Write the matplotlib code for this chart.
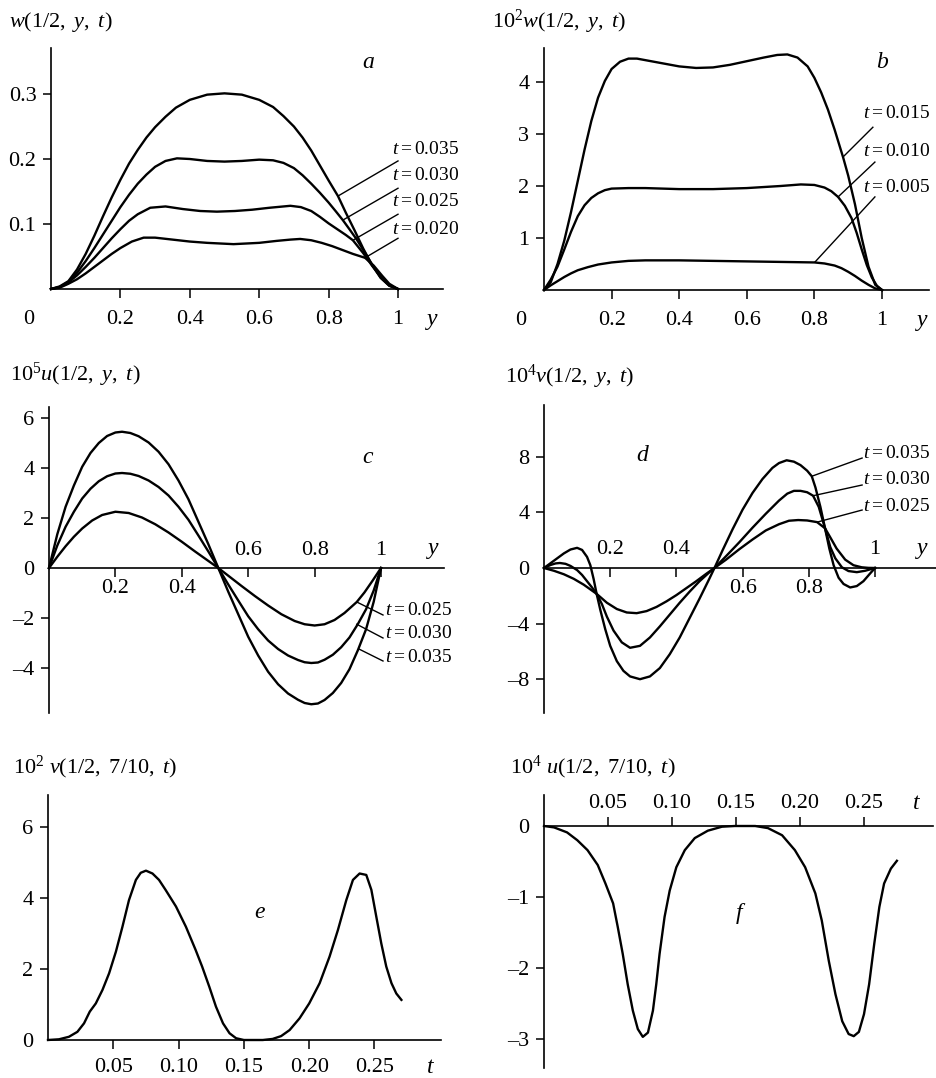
"""Six-panel profile figure: w, u, v along y and v, u against t."""

import matplotlib

matplotlib.use("Agg")
import matplotlib.pyplot as plt

# ---- panel a: w(1/2, y, t) ----
A_Y_035 = [0, 0.025, 0.05, 0.075, 0.1, 0.125, 0.15, 0.175, 0.2, 0.225, 0.25, 0.275, 0.3, 0.33, 0.36, 0.4, 0.45, 0.5,
           0.55, 0.6, 0.64, 0.67, 0.7, 0.725, 0.75, 0.775, 0.8, 0.827, 0.85, 0.875, 0.9, 0.925, 0.95, 0.975, 1.0]
A_W_035 = [0, 0.004, 0.012, 0.03, 0.054, 0.082, 0.112, 0.141, 0.168, 0.193, 0.214, 0.233, 0.249, 0.265, 0.279, 0.291, 0.299, 0.301,
           0.299, 0.291, 0.28, 0.266, 0.25, 0.233, 0.213, 0.19, 0.167, 0.143, 0.117, 0.09, 0.062, 0.037, 0.017, 0.005, 0]
A_Y_030 = [0, 0.025, 0.05, 0.075, 0.1, 0.125, 0.15, 0.175, 0.2, 0.225, 0.25, 0.275, 0.3, 0.33, 0.363, 0.4, 0.45, 0.5,
           0.55, 0.6, 0.64, 0.67, 0.7, 0.725, 0.75, 0.775, 0.8, 0.82, 0.841, 0.86, 0.88, 0.9, 0.925, 0.95, 0.975, 1.0]
A_W_030 = [0, 0.003, 0.011, 0.025, 0.043, 0.063, 0.084, 0.105, 0.126, 0.145, 0.162, 0.176, 0.188, 0.197, 0.201, 0.2, 0.197, 0.196,
           0.197, 0.199, 0.198, 0.194, 0.186, 0.175, 0.162, 0.148, 0.133, 0.12, 0.106, 0.092, 0.077, 0.06, 0.038, 0.018, 0.005, 0]
A_Y_025 = [0, 0.025, 0.05, 0.075, 0.1, 0.125, 0.15, 0.175, 0.2, 0.225, 0.25, 0.286, 0.33, 0.38, 0.43, 0.478, 0.53, 0.58,
           0.63, 0.69, 0.72, 0.75, 0.775, 0.8, 0.825, 0.85, 0.87, 0.9, 0.925, 0.95, 0.975, 1.0]
A_W_025 = [0, 0.003, 0.01, 0.021, 0.034, 0.048, 0.063, 0.078, 0.092, 0.105, 0.115, 0.125, 0.127, 0.123, 0.12, 0.119, 0.12, 0.122,
           0.125, 0.128, 0.126, 0.12, 0.111, 0.101, 0.092, 0.083, 0.075, 0.055, 0.036, 0.019, 0.006, 0]
A_Y_020 = [0, 0.025, 0.05, 0.075, 0.1, 0.125, 0.15, 0.175, 0.2, 0.233, 0.267, 0.3, 0.35, 0.4, 0.45, 0.526, 0.6, 0.65,
           0.69, 0.718, 0.75, 0.78, 0.81, 0.84, 0.87, 0.905, 0.93, 0.955, 0.975, 1.0]
A_W_020 = [0, 0.002, 0.008, 0.015, 0.024, 0.034, 0.044, 0.054, 0.063, 0.073, 0.079, 0.079, 0.076, 0.073, 0.071, 0.069, 0.071, 0.074,
           0.076, 0.077, 0.075, 0.071, 0.066, 0.06, 0.054, 0.048, 0.036, 0.02, 0.008, 0]

# ---- panel b: 10^2 w(1/2, y, t) ----
B_Y_015 = [0, 0.02, 0.04, 0.06, 0.08, 0.1, 0.12, 0.14, 0.16, 0.18, 0.2, 0.225, 0.25, 0.275, 0.3, 0.35, 0.4, 0.45, 0.5,
           0.55, 0.6, 0.65, 0.69, 0.72, 0.75, 0.78, 0.8, 0.82, 0.84, 0.86, 0.885, 0.9, 0.92, 0.94, 0.96, 0.98, 1.0]
B_W_015 = [0, 0.15, 0.5, 0.95, 1.5, 2.1, 2.7, 3.25, 3.7, 4.02, 4.25, 4.39, 4.45, 4.45, 4.42, 4.36, 4.3, 4.27, 4.28,
           4.33, 4.4, 4.47, 4.52, 4.53, 4.47, 4.3, 4.08, 3.8, 3.47, 3.08, 2.55, 2.2, 1.65, 1.0, 0.45, 0.1, 0]
B_Y_010 = [0, 0.02, 0.04, 0.06, 0.08, 0.1, 0.12, 0.14, 0.16, 0.18, 0.2, 0.25, 0.3, 0.4, 0.5, 0.6, 0.7, 0.76,
           0.8, 0.83, 0.85, 0.87, 0.89, 0.91, 0.925, 0.94, 0.955, 0.97, 0.985, 1.0]
B_W_010 = [0, 0.2, 0.45, 0.78, 1.12, 1.42, 1.63, 1.77, 1.86, 1.92, 1.95, 1.96, 1.96, 1.94, 1.94, 1.96, 2.0, 2.03,
           2.02, 1.97, 1.9, 1.79, 1.62, 1.38, 1.1, 0.78, 0.48, 0.24, 0.08, 0]
B_Y_005 = [0, 0.02, 0.04, 0.06, 0.08, 0.1, 0.13, 0.16, 0.2, 0.25, 0.3, 0.4, 0.5, 0.6, 0.7, 0.8, 0.83, 0.86,
           0.88, 0.9, 0.92, 0.94, 0.96, 0.98, 1.0]
B_W_005 = [0, 0.09, 0.17, 0.25, 0.32, 0.38, 0.44, 0.49, 0.53, 0.56, 0.57, 0.57, 0.56, 0.55, 0.54, 0.53, 0.51, 0.47,
           0.42, 0.35, 0.27, 0.18, 0.1, 0.03, 0]

# ---- panel c: 10^5 u(1/2, y, t) ----
C_Y_HI = [0, 0.025, 0.05, 0.075, 0.1, 0.125, 0.15, 0.175, 0.2, 0.22, 0.245, 0.27, 0.3, 0.33, 0.36, 0.39, 0.42, 0.45, 0.48, 0.51,
          0.54, 0.57, 0.6, 0.63, 0.66, 0.69, 0.72, 0.75, 0.77, 0.79, 0.81, 0.83, 0.855, 0.88, 0.905, 0.93, 0.955, 0.978, 1.0]
C_U_035 = [0, 1.35, 2.45, 3.3, 4.05, 4.6, 5.0, 5.28, 5.42, 5.45, 5.4, 5.27, 5.02, 4.65, 4.15, 3.5, 2.75, 1.85, 0.95, 0,
           -0.95, -1.85, -2.75, -3.5, -4.15, -4.65, -5.02, -5.27, -5.4, -5.45, -5.42, -5.28, -5.0, -4.6, -4.05, -3.3, -2.45, -1.35, 0]
C_U_030 = [0, 0.9, 1.65, 2.25, 2.78, 3.17, 3.47, 3.67, 3.78, 3.8, 3.77, 3.68, 3.5, 3.24, 2.9, 2.45, 1.93, 1.3, 0.66, 0,
           -0.66, -1.3, -1.93, -2.45, -2.9, -3.24, -3.5, -3.68, -3.77, -3.8, -3.78, -3.67, -3.47, -3.17, -2.78, -2.25, -1.65, -0.9, 0]
C_Y_025 = [0, 0.025, 0.05, 0.075, 0.1, 0.13, 0.16, 0.2, 0.24, 0.28, 0.32, 0.36, 0.4, 0.44, 0.475, 0.51,
           0.545, 0.58, 0.62, 0.66, 0.7, 0.74, 0.77, 0.8, 0.83, 0.86, 0.89, 0.927, 0.95, 0.975, 1.0]
C_U_025 = [0, 0.45, 0.87, 1.25, 1.58, 1.9, 2.12, 2.25, 2.2, 2.02, 1.75, 1.42, 1.05, 0.66, 0.33, 0,
           -0.36, -0.72, -1.12, -1.5, -1.85, -2.12, -2.25, -2.3, -2.25, -2.08, -1.8, -1.36, -0.98, -0.5, 0]

# ---- panel d: 10^4 v(1/2, y, t) ----
D_Y_035 = [0, 0.02, 0.04, 0.06, 0.08, 0.1, 0.115, 0.13, 0.14, 0.15, 0.159, 0.17, 0.185, 0.2, 0.22, 0.24, 0.26, 0.29, 0.32,
           0.35, 0.38, 0.41, 0.44, 0.47, 0.5, 0.515, 0.54, 0.57, 0.6, 0.63, 0.66, 0.69, 0.71, 0.733, 0.755, 0.775, 0.795,
           0.809, 0.82, 0.835, 0.849, 0.862, 0.875, 0.89, 0.905, 0.925, 0.945, 0.965, 0.985, 1.0]
D_V_035 = [0, 0.35, 0.7, 1.05, 1.33, 1.45, 1.3, 0.8, 0.2, -0.8, -1.86, -3.0, -4.4, -5.6, -6.7, -7.4, -7.8, -8.0, -7.8,
           -7.2, -6.2, -5.0, -3.6, -2.2, -0.75, 0, 1.3, 2.8, 4.2, 5.4, 6.4, 7.2, 7.55, 7.75, 7.65, 7.4, 7.0,
           6.6, 5.8, 4.4, 2.86, 1.4, 0.2, -0.7, -1.15, -1.4, -1.3, -0.95, -0.4, 0]
D_Y_030 = [0, 0.02, 0.035, 0.048, 0.065, 0.08, 0.1, 0.115, 0.13, 0.145, 0.159, 0.175, 0.19, 0.21, 0.235, 0.26, 0.29, 0.32,
           0.35, 0.38, 0.41, 0.44, 0.47, 0.5, 0.515, 0.55, 0.59, 0.63, 0.67, 0.71, 0.735, 0.755, 0.775, 0.795, 0.813,
           0.83, 0.849, 0.865, 0.88, 0.9, 0.92, 0.945, 0.97, 1.0]
D_V_030 = [0, 0.22, 0.33, 0.36, 0.3, 0.15, -0.15, -0.5, -0.95, -1.4, -1.86, -2.6, -3.5, -4.5, -5.35, -5.74, -5.6, -5.0,
           -4.2, -3.35, -2.5, -1.7, -0.95, -0.3, 0, 0.85, 1.85, 2.9, 3.9, 4.85, 5.35, 5.55, 5.55, 5.45, 5.2,
           4.4, 2.86, 1.5, 0.7, 0.05, -0.22, -0.3, -0.2, 0]
D_Y_025 = [0, 0.03, 0.06, 0.09, 0.12, 0.159, 0.19, 0.22, 0.25, 0.28, 0.31, 0.34, 0.37, 0.4, 0.43, 0.46, 0.49, 0.515,
           0.55, 0.59, 0.63, 0.67, 0.71, 0.74, 0.768, 0.795, 0.825, 0.849, 0.865, 0.884, 0.91, 0.935, 0.96, 0.98, 1.0]
D_V_025 = [0, -0.2, -0.45, -0.78, -1.2, -1.86, -2.5, -2.95, -3.2, -3.25, -3.1, -2.8, -2.4, -1.95, -1.45, -0.95, -0.42, 0,
           0.6, 1.35, 2.05, 2.7, 3.15, 3.4, 3.45, 3.42, 3.3, 2.86, 2.2, 1.4, 0.6, 0.2, 0.05, 0.01, 0]

# ---- panel e: 10^2 v(1/2, 7/10, t) ----
E_T = [0, 0.0084, 0.016, 0.0225, 0.0276, 0.032, 0.0366, 0.0417, 0.0468, 0.052, 0.057, 0.062, 0.0673, 0.071, 0.075,
       0.08, 0.085, 0.09, 0.098, 0.1056, 0.113, 0.118, 0.1235, 0.1286, 0.134, 0.139, 0.144, 0.15, 0.1645, 0.172,
       0.1785, 0.185, 0.1926, 0.2, 0.208, 0.2156, 0.222, 0.2284, 0.2335, 0.2386, 0.2437, 0.2476, 0.2514, 0.2552,
       0.259, 0.263, 0.2667, 0.2706]
E_V = [0, 0.02, 0.09, 0.23, 0.47, 0.8, 1.03, 1.41, 1.88, 2.49, 3.19, 3.94, 4.51, 4.71, 4.77,
       4.69, 4.51, 4.23, 3.76, 3.19, 2.54, 2.07, 1.5, 0.94, 0.47, 0.19, 0.05, 0, 0, 0.03,
       0.11, 0.28, 0.61, 1.03, 1.6, 2.35, 3.1, 3.94, 4.51, 4.69, 4.65, 4.23, 3.47, 2.72,
       2.07, 1.6, 1.31, 1.13]

# ---- panel f: 10^4 u(1/2, 7/10, t) ----
F_T = [0, 0.0079, 0.018, 0.026, 0.034, 0.042, 0.048, 0.054, 0.0576, 0.0615, 0.0654, 0.0694, 0.0733, 0.0772, 0.0812,
       0.0851, 0.0877, 0.0903, 0.0942, 0.0982, 0.1034, 0.11, 0.1178, 0.128, 0.139, 0.149, 0.165, 0.175, 0.186,
       0.196, 0.204, 0.212, 0.217, 0.2225, 0.2277, 0.233, 0.238, 0.242, 0.246, 0.25, 0.254, 0.258, 0.262, 0.2657,
       0.271, 0.2757]
F_U = [0, -0.02, -0.09, -0.2, -0.34, -0.55, -0.81, -1.09, -1.42, -1.8, -2.23, -2.6, -2.86, -2.97, -2.91,
       -2.6, -2.23, -1.8, -1.28, -0.91, -0.58, -0.34, -0.17, -0.066, -0.01, 0, 0, -0.03, -0.13,
       -0.34, -0.58, -0.95, -1.33, -1.9, -2.37, -2.75, -2.93, -2.96, -2.9, -2.65, -2.23, -1.66, -1.14, -0.81,
       -0.6, -0.49]

# tick labels
Y_TICKS_A = [0.1, 0.2, 0.3]
Y_TICKS_B = [1, 2, 3, 4]
Y_TICKS_C = [6, 4, 2, 0, -2, -4]
Y_TICKS_D = [8, 4, 0, -4, -8]
Y_TICKS_E = [0, 2, 4, 6]
Y_TICKS_F = [0, -1, -2, -3]
X_TICKS_Y = [0.2, 0.4, 0.6, 0.8, 1]
X_LABELS_Y = ["0.2", "0.4", "0.6", "0.8", "1"]
X_TICKS_T = [0.05, 0.10, 0.15, 0.20, 0.25]
X_LABELS_T = ["0.05", "0.10", "0.15", "0.20", "0.25"]

W, H = 937, 1078
CURVE_LW = 1.7
FS = 16

plt.rcParams["font.family"] = ["Liberation Serif", "DejaVu Serif"]
plt.rcParams["mathtext.fontset"] = "custom"
plt.rcParams["mathtext.rm"] = "Liberation Serif"
plt.rcParams["mathtext.it"] = "Liberation Serif:italic"
plt.rcParams["font.size"] = FS
plt.rcParams["lines.solid_joinstyle"] = "round"


def num(v: float) -> str:
    return f"{v:g}".replace("-", "\u2013")


def make_axes(fig, origin, scale, xlim, ylim):
    """Place axes so that data maps onto the reference pixel grid."""
    x0, y0 = origin
    sx, sy = scale
    left = x0 + xlim[0] * sx
    right = x0 + xlim[1] * sx
    top = y0 - ylim[1] * sy
    bottom = y0 - ylim[0] * sy
    ax = fig.add_axes([left / W, 1 - bottom / H, (right - left) / W, (bottom - top) / H])
    ax.set_xlim(xlim)
    ax.set_ylim(ylim)
    ax.patch.set_visible(False)
    for side in ("top", "right"):
        ax.spines[side].set_visible(False)
    ax.spines["left"].set_position(("data", 0))
    ax.spines["bottom"].set_position(("data", 0))
    for side in ("left", "bottom"):
        ax.spines[side].set_linewidth(1.2)
    ax.tick_params(axis="y", direction="out", length=5.5, width=1.1, pad=5, labelsize=FS)
    ax.tick_params(axis="x", direction="out", length=6.5, width=1.1, labelbottom=False)
    return ax


def set_yticks(ax, ticks):
    ax.set_yticks(ticks)
    ax.set_yticklabels([num(v) for v in ticks])
    for tick, v in zip(ax.yaxis.get_major_ticks(), ticks):
        if v == 0:
            tick.tick1line.set_visible(False)


def x_labels(ax, ticks, labels, offsets):
    ax.set_xticks(ticks)
    for x, lab, off in zip(ticks, labels, offsets):
        ax.annotate(lab, xy=(x, 0), xytext=(0, off), textcoords="offset points",
                    ha="center", va="center", fontsize=FS, annotation_clip=False)


def var_label(ax, x, text, off):
    ax.annotate(text, xy=(x, 0), xytext=(0, off), textcoords="offset points",
                ha="center", va="center", fontsize=FS + 1, style="italic",
                annotation_clip=False)


def curve_label(ax, text_xy, start, end, label):
    ax.plot([start[0], end[0]], [start[1], end[1]], color="black", lw=1.0, clip_on=False)
    ax.text(text_xy[0], text_xy[1], label, ha="left", va="center", fontsize=14, clip_on=False)


def draw(ax, xs, ys):
    ax.plot(xs, ys, color="black", lw=CURVE_LW, clip_on=False)


def main() -> None:
    fig = plt.figure(figsize=(W / 100, H / 100), dpi=100)

    # a
    ax = make_axes(fig, (51, 289), (347, 650), (0, 1.13), (0, 0.371))
    draw(ax, A_Y_035, A_W_035)
    draw(ax, A_Y_030, A_W_030)
    draw(ax, A_Y_025, A_W_025)
    draw(ax, A_Y_020, A_W_020)
    set_yticks(ax, Y_TICKS_A)
    x_labels(ax, X_TICKS_Y, X_LABELS_Y, [-22] * 5)
    ax.annotate("0", xy=(0, 0), xytext=(-16, -22), textcoords="offset points",
                ha="center", va="center", fontsize=FS)
    var_label(ax, 1.10, "y", -22)
    ax.text(0.914, 0.348, "a", style="italic", fontsize=FS + 1, ha="center", va="center")
    curve_label(ax, (0.983, 0.214), (1.0, 0.197), (0.827, 0.143), r"$t=0.035$")
    curve_label(ax, (0.983, 0.174), (1.0, 0.155), (0.841, 0.106), r"$t=0.030$")
    curve_label(ax, (0.983, 0.134), (1.0, 0.115), (0.870, 0.075), r"$t=0.025$")
    curve_label(ax, (0.983, 0.092), (1.0, 0.078), (0.905, 0.048), r"$t=0.020$")
    fig.text(9 / W, 1 - 22 / H, r"$w(1/2,\ y,\ t)$", ha="left", va="center", fontsize=FS)

    # b
    ax = make_axes(fig, (544, 290), (338, 52), (0, 1.14), (0, 4.65))
    draw(ax, B_Y_015, B_W_015)
    draw(ax, B_Y_010, B_W_010)
    draw(ax, B_Y_005, B_W_005)
    set_yticks(ax, Y_TICKS_B)
    x_labels(ax, X_TICKS_Y, X_LABELS_Y, [-22] * 5)
    ax.annotate("0", xy=(0, 0), xytext=(-17, -22), textcoords="offset points",
                ha="center", va="center", fontsize=FS)
    var_label(ax, 1.118, "y", -22)
    ax.text(1.0, 4.38, "b", style="italic", fontsize=FS + 1, ha="center", va="center")
    curve_label(ax, (0.944, 3.40), (0.973, 3.13), (0.885, 2.56), r"$t=0.015$")
    curve_label(ax, (0.944, 2.67), (0.979, 2.46), (0.870, 1.79), r"$t=0.010$")
    curve_label(ax, (0.944, 1.98), (0.979, 1.79), (0.802, 0.54), r"$t=0.005$")
    fig.text(492 / W, 1 - 22 / H, r"$10^2w(1/2,\ y,\ t)$", ha="left", va="center", fontsize=FS)

    # c
    ax = make_axes(fig, (49, 568), (332, 25), (0, 1.19), (-5.8, 6.44))
    draw(ax, C_Y_HI, C_U_035)
    draw(ax, C_Y_HI, C_U_030)
    draw(ax, C_Y_025, C_U_025)
    set_yticks(ax, Y_TICKS_C)
    x_labels(ax, X_TICKS_Y, X_LABELS_Y, [-15, -15, 12.5, 12.5, 12.5])
    var_label(ax, 1.157, "y", 14)
    ax.text(0.96, 4.44, "c", style="italic", fontsize=FS + 1, ha="center", va="center")
    curve_label(ax, (1.012, -1.68), (1.006, -1.88), (0.927, -1.36), r"$t=0.025$")
    curve_label(ax, (1.012, -2.60), (1.006, -2.80), (0.927, -2.25), r"$t=0.030$")
    curve_label(ax, (1.012, -3.56), (1.006, -3.72), (0.935, -3.25), r"$t=0.035$")
    fig.text(10 / W, 1 - 375 / H, r"$10^5u(1/2,\ y,\ t)$", ha="left", va="center", fontsize=FS)

    # d
    ax = make_axes(fig, (544, 568), (331, 13.9), (0, 1.19), (-10.4, 11.7))
    draw(ax, D_Y_035, D_V_035)
    draw(ax, D_Y_030, D_V_030)
    draw(ax, D_Y_025, D_V_025)
    set_yticks(ax, Y_TICKS_D)
    x_labels(ax, X_TICKS_Y, X_LABELS_Y, [13, 13, -14.5, -14.5, 13])
    var_label(ax, 1.142, "y", 14)
    ax.text(0.296, 8.1, "d", style="italic", fontsize=FS + 1, ha="center", va="center")
    curve_label(ax, (0.964, 8.27), (0.961, 7.91), (0.809, 6.6), r"$t=0.035$")
    curve_label(ax, (0.964, 6.40), (0.961, 5.97), (0.813, 5.2), r"$t=0.030$")
    curve_label(ax, (0.964, 4.46), (0.961, 4.17), (0.825, 3.3), r"$t=0.025$")
    fig.text(505 / W, 1 - 377 / H, r"$10^4v(1/2,\ y,\ t)$", ha="left", va="center", fontsize=FS)

    # e
    ax = make_axes(fig, (48, 1040), (1306, 35.5), (0, 0.301), (0, 6.9))
    draw(ax, E_T, E_V)
    set_yticks(ax, Y_TICKS_E)
    x_labels(ax, X_TICKS_T, X_LABELS_T, [-19.5] * 5)
    var_label(ax, 0.2925, "t", -19.5)
    ax.text(0.162, 3.6, "e", style="italic", fontsize=FS + 1, ha="center", va="center")
    fig.text(13 / W, 1 - 767 / H, r"$10^2\ v(1/2,\ 7/10,\ t)$", ha="left", va="center", fontsize=FS)

    # f
    ax = make_axes(fig, (544, 826), (1280, 71), (0, 0.304), (-3.41, 0.44))
    draw(ax, F_T, F_U)
    set_yticks(ax, Y_TICKS_F)
    ax.tick_params(axis="x", direction="in")
    x_labels(ax, X_TICKS_T, X_LABELS_T, [16] * 5)
    var_label(ax, 0.291, "t", 16)
    ax.text(0.152, -1.23, "f", style="italic", fontsize=FS + 1, ha="center", va="center")
    fig.text(510 / W, 1 - 767 / H, r"$10^4\ u(1/2,\ 7/10,\ t)$", ha="left", va="center", fontsize=FS)

    fig.savefig("out.png", dpi=100)
    plt.close(fig)


if __name__ == "__main__":
    main()
